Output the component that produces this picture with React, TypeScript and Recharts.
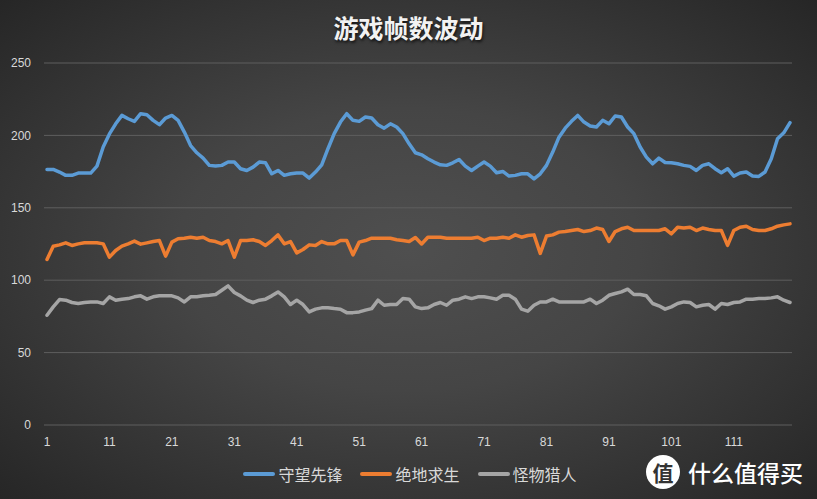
import React from 'react';
import { LineChart, Line, XAxis, YAxis, CartesianGrid, Legend } from 'recharts';

const categories: string[] = Array.from({ length: 120 }, (_, i) => String(i + 1));

const overwatch: number[] = [
  176.5, 176.5, 174.7, 172.4, 172.4, 174, 174, 174, 178.8, 192,
  201, 208, 213.8, 211.5, 209.7, 215, 214.3, 210.4, 207.4, 212,
  213.8, 210.4, 202.3, 193, 188, 184.3, 179.3, 178.8, 179.3, 181.6,
  181.6, 177, 175.8, 178.1, 181.6, 181.1, 173.5, 175.8, 172.4, 173.5,
  174, 174, 170.5, 174.7, 179.7, 190.8, 201.2, 209.2, 215, 210.4,
  209.7, 212.7, 212, 207.4, 205, 208, 205.8, 201.2, 194.2, 188,
  186.6, 183.9, 181.6, 179.7, 179.3, 181.1, 183.4, 178.8, 175.8, 178.8,
  181.6, 178.8, 174.2, 175.1, 171.9, 172.4, 173.5, 173.5, 170, 173.5,
  179.3, 188.5, 198.8, 205, 209.7, 213.8, 209.2, 206.5, 205.8, 210.4,
  208, 213.4, 212.7, 205.8, 201.2, 192, 185, 180.4, 184.3, 181.3,
  181.1, 180.4, 179.3, 178.6, 175.8, 179.3, 180.4, 177, 174.2, 177,
  171.9, 174, 174.7, 171.9, 171.7, 174.7, 183.9, 197.7, 201.8, 208.8,
];

const pubg: number[] = [
  114.3, 123.5, 124.4, 125.8, 124, 125.1, 125.8, 125.8, 125.8, 125.1,
  115.9, 120.5, 123.5, 125.1, 127, 124.9, 125.8, 126.7, 127.4, 116.6,
  126.3, 128.6, 129, 129.7, 129, 129.7, 127.4, 126.7, 125.1, 127.4,
  115.9, 127.4, 127.4, 127.9, 126.7, 124, 127.4, 131.3, 125.1, 126.7,
  118.9, 121.2, 124.4, 124, 126.7, 125.1, 125.1, 127.4, 127.4, 117.5,
  126.3, 127.4, 129, 129, 129, 129, 127.9, 127.4, 126.7, 129.5,
  125, 129.7, 129.7, 129.7, 129, 129, 129, 129, 129, 129.7,
  127.4, 129, 129, 129.7, 129, 131.3, 129.7, 130.9, 131.3, 118.5,
  130.5, 131.3, 133.2, 133.6, 134.3, 135, 133.6, 134.3, 136, 135,
  126.7, 133.6, 135.5, 136.6, 134.3, 134.3, 134.3, 134.3, 134.3, 135.5,
  132, 136.6, 136, 136.6, 134.3, 136, 135, 134.3, 134.3, 124,
  134.3, 136.6, 137.3, 135, 134.3, 134.3, 135.5, 137.3, 138.2, 138.9,
];

const monsterHunter: number[] = [
  75.8, 81.6, 86.6, 86.2, 84.6, 83.9, 84.6, 85, 85, 83.9,
  88.5, 86.2, 86.9, 87.3, 88.5, 89.2, 86.9, 88.5, 89.2, 89.2,
  89.2, 87.8, 85, 88.5, 88.5, 89.2, 89.6, 90.1, 93.1, 96.1,
  91.5, 89.2, 86.2, 84.6, 86.2, 86.9, 89.2, 91.9, 88.5, 83.2,
  86.2, 83.2, 78.1, 80, 80.9, 80.9, 80.4, 80, 77.6, 77.6,
  78.1, 79.3, 80.4, 86.2, 82.7, 83.2, 83.2, 87.3, 86.9, 81.6,
  80.4, 80.9, 83.2, 84.6, 82.7, 86.2, 86.9, 88.5, 87.3, 88.5,
  88.5, 87.8, 86.9, 89.6, 89.6, 86.9, 80, 78.6, 82.7, 85,
  85, 86.9, 85, 85, 85, 85, 85, 86.9, 83.9, 86.2,
  89.6, 90.8, 91.9, 93.8, 90.1, 90.1, 89.2, 83.9, 82.3, 80,
  81.6, 83.9, 85, 84.6, 81.6, 82.7, 83.2, 80, 83.9, 83.2,
  84.6, 85, 86.9, 86.9, 87.3, 87.3, 87.8, 88.5, 86.2, 84.6,
];

const seriesNames = ['守望先锋', '绝地求生', '怪物猎人'];
const seriesColors = ['#5B9BD5', '#ED7D31', '#A5A5A5'];
const yTicks = [0, 50, 100, 150, 200, 250];
const title = '游戏帧数波动';

const rows = categories.map((c, i) => ({
  cat: c,
  s0: overwatch[i],
  s1: pubg[i],
  s2: monsterHunter[i],
}));

const tickFont = "'Liberation Sans', 'Noto Sans CJK SC', sans-serif";
const cjkFont = "'Noto Sans CJK SC', sans-serif";

const renderLegend = (props: any) => {
  const payload = [...(props.payload || [])].sort(
    (a: any, b: any) => seriesNames.indexOf(a.value) - seriesNames.indexOf(b.value)
  );
  return (
    <div style={{ display: 'flex', justifyContent: 'center', alignItems: 'center', height: 24, gap: 18, paddingLeft: 3 }}>
      {payload.map((entry: any, idx: number) => (
        <div key={idx} style={{ display: 'flex', alignItems: 'center' }}>
          <svg width={32} height={8}>
            <line x1={2} y1={4} x2={30} y2={4} stroke={entry.color} strokeWidth={4} strokeLinecap="round" />
          </svg>
          <span style={{ marginLeft: 3, color: '#d9d9d9', fontSize: 16, fontFamily: cjkFont, lineHeight: '20px' }}>{entry.value}</span>
        </div>
      ))}
    </div>
  );
};

export default function App() {
  return (
    <div
      style={{
        position: 'absolute',
        left: 0,
        top: 0,
        width: 817,
        height: 499,
        overflow: 'hidden',
        background: 'radial-gradient(ellipse farthest-corner at 50% 50%, #4f4f4f 0%, #454545 40%, #262626 100%)',
      }}
    >
      <div
        style={{
          position: 'absolute',
          top: 12,
          left: 0,
          width: 817,
          textAlign: 'center',
          fontFamily: cjkFont,
          fontSize: 25,
          fontWeight: 700,
          lineHeight: '30px',
          color: '#f2f2f2',
          textShadow: '1px 2px 3px rgba(0,0,0,0.7)',
        }}
      >
        {title}
      </div>
      <LineChart width={817} height={499} data={rows} margin={{ top: 63, right: 25, left: 8, bottom: 13 }}>
        <CartesianGrid vertical={false} stroke="#5e5e5e" strokeWidth={1} />
        <XAxis
          dataKey="cat"
          interval={9}
          axisLine={false}
          tickLine={false}
          tickSize={0}
          tickMargin={12}
          height={37}
          padding={{ left: 3, right: 2 }}
          tick={{ fill: '#d9d9d9', fontSize: 12, fontFamily: tickFont }}
        />
        <YAxis
          domain={[0, 250]}
          ticks={yTicks}
          width={36}
          axisLine={false}
          tickLine={false}
          tickSize={0}
          tickMargin={13}
          tick={{ fill: '#d9d9d9', fontSize: 12, fontFamily: tickFont }}
        />
        <Legend content={renderLegend} verticalAlign="bottom" wrapperStyle={{ left: 0, width: 817 }} />
        {seriesNames.map((name, i) => (
          <Line
            key={name}
            type="linear"
            dataKey={`s${i}`}
            name={name}
            stroke={seriesColors[i]}
            strokeWidth={3.5}
            strokeLinejoin="round"
            strokeLinecap="round"
            dot={false}
            activeDot={false}
            isAnimationActive={false}
          />
        ))}
      </LineChart>
      <div
        style={{
          position: 'absolute',
          left: 646,
          top: 455,
          width: 34,
          height: 34,
          borderRadius: 17,
          background: '#ffffff',
          color: '#333333',
          fontFamily: cjkFont,
          fontWeight: 700,
          fontSize: 21,
          lineHeight: '34px',
          textAlign: 'center',
        }}
      >
        值
      </div>
      <div
        style={{
          position: 'absolute',
          left: 688,
          top: 458,
          fontFamily: cjkFont,
          fontSize: 23,
          fontWeight: 500,
          lineHeight: '28px',
          color: '#ffffff',
          whiteSpace: 'nowrap',
        }}
      >
        什么值得买
      </div>
    </div>
  );
}
